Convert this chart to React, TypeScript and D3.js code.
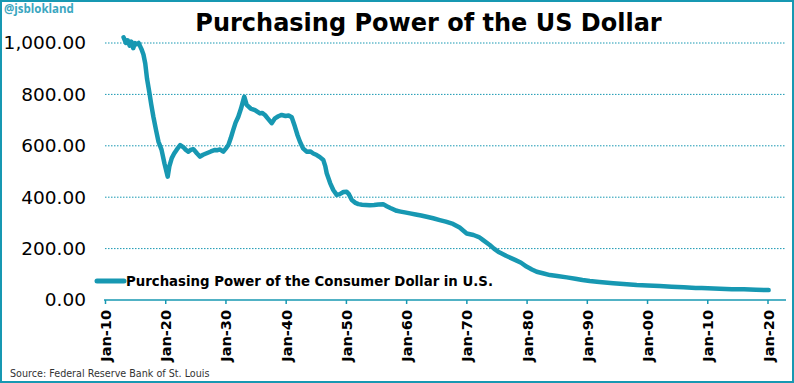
import React from "react";
import * as d3 from "d3";

const years: number[] = [
  1913.0, 1913.4, 1913.7, 1914.0, 1914.3, 1914.6, 1914.9, 1915.2, 1915.5, 1915.8,
  1916.0, 1916.3, 1916.6, 1916.9, 1917.3, 1917.6, 1917.95, 1918.4, 1918.8, 1919.3,
  1919.8, 1920.33, 1920.6, 1921.0, 1921.4, 1921.8, 1922.4, 1922.9, 1923.3, 1923.75,
  1924.2, 1924.6, 1925.2, 1925.7, 1926.2, 1926.8, 1927.5, 1928.2, 1928.6, 1929.0,
  1929.56, 1930.0, 1930.4, 1930.8, 1931.2, 1931.6, 1932.05, 1932.5, 1933.04, 1933.44,
  1934.1, 1934.82, 1935.65, 1936.0, 1936.48, 1937.0, 1937.59, 1938.14, 1938.7, 1939.25,
  1939.9, 1940.4, 1940.92, 1941.46, 1941.9, 1942.29, 1942.8, 1943.4, 1944.0, 1944.5,
  1945.07, 1945.6, 1946.16, 1946.5, 1946.73, 1947.3, 1947.82, 1948.39, 1948.9, 1949.5,
  1950.05, 1950.4, 1950.9, 1951.5, 1952.0, 1952.6, 1953.2, 1953.9, 1954.6, 1955.3,
  1956.1, 1956.7, 1957.3, 1958.35, 1959.0, 1959.7, 1960.56, 1961.5, 1962.4, 1963.33,
  1964.4, 1965.5, 1966.5, 1967.7, 1968.8, 1969.97, 1971.1, 1972.0, 1972.7, 1973.8,
  1974.5, 1975.2, 1976.5, 1978.0, 1979.0, 1979.9, 1980.8, 1981.6, 1982.6, 1983.8,
  1985.0, 1986.6, 1988.0, 1989.2, 1990.4, 1992.0, 1994.3, 1996.0, 1998.2, 2000.0,
  2002.0, 2004.0, 2006.0, 2008.0, 2009.0, 2010.0, 2012.0, 2014.0, 2016.0, 2018.0,
  2020.1,
];

const purchasingPower: number[] = [
  1022, 1000, 1010, 990, 1005, 980, 1000, 995, 1000, 985,
  975, 955, 920, 860, 805, 760, 713, 660, 616, 585,
  530, 480, 520, 552, 570, 584, 603, 595, 585, 577,
  585, 587, 570, 558, 565, 571, 578, 584, 583, 586,
  577, 590, 603, 630, 661, 690, 713, 745, 791, 759,
  745, 739, 726, 728, 720, 705, 688, 707, 715, 720,
  716, 718, 711, 674, 640, 616, 590, 577, 578, 570,
  564, 556, 545, 520, 493, 455, 428, 409, 412, 420,
  421, 412, 389, 378, 373, 371, 370, 369, 370, 372,
  373, 365, 358, 347, 344, 341, 337, 333, 329, 324,
  318, 311, 305, 296, 282, 259, 253, 245, 233, 214,
  200, 188, 172, 156, 145, 130, 119, 110, 104, 97,
  93, 88, 83, 78, 74, 70, 65, 62, 58, 56,
  54.5, 52, 49.5, 46.5, 46.5, 45.5, 43.5, 42.2, 41.7, 39.8,
  38.6,
];

const xTickYears: number[] = [1910, 1920, 1930, 1940, 1950, 1960, 1970, 1980, 1990, 2000, 2010, 2020];
const yTicks: number[] = [0, 200, 400, 600, 800, 1000];

const title = "Purchasing Power of the US Dollar";
const seriesName = "Purchasing Power of the Consumer Dollar in U.S.";
const source = "Source: Federal Reserve Bank of St. Louis";
const handle = "@jsblokland";

const W = 794;
const H = 383;
const TEAL = "#1798b2";
const FONT = "'DejaVu Sans', Verdana, sans-serif";

export default function App() {
  const x = d3.scaleLinear().domain([1910, 2020]).range([105.5, 768]);
  const y = d3.scaleLinear().domain([0, 1000]).range([300, 43]);
  const plotRight = 786;

  const pts: [number, number][] = years.map((yr, i) => [yr, purchasingPower[i]]);
  const line = d3
    .line<[number, number]>()
    .x((d) => x(d[0]))
    .y((d) => y(d[1]))
    .curve(d3.curveLinear);

  const fmt = d3.format(",.2f");
  const tickLabel = (yr: number) => "Jan-" + String(yr % 100).padStart(2, "0");

  return (
    <svg
      width={W}
      height={H}
      style={{ position: "absolute", left: 0, top: 0, background: "#fff" }}
    >
      <rect x={1} y={1} width={W - 2} height={H - 2} fill="#fff" stroke={TEAL} strokeWidth={2} />
      <text x={4} y={13} fontFamily="'Open Sans', sans-serif" fontWeight={700} fontSize={11.5} fill="#3aa6c0">
        {handle}
      </text>
      <text x={428.5} y={31} textAnchor="middle" fontFamily={FONT} fontWeight={700} fontSize={24} fill="#000">
        {title}
      </text>

      {yTicks.map((t) => (
        <g key={t}>
          {t > 0 && (
            <line
              x1={105}
              x2={plotRight}
              y1={y(t)}
              y2={y(t)}
              stroke={TEAL}
              strokeWidth={1}
              strokeDasharray="1.5 1.5"
            />
          )}
          <text x={86} y={y(t)} dy="0.35em" textAnchor="end" fontFamily={FONT} fontSize={18.5} fill="#000">
            {fmt(t)}
          </text>
        </g>
      ))}

      <line x1={104} x2={plotRight} y1={y(0)} y2={y(0)} stroke={TEAL} strokeWidth={1.5} />
      {xTickYears.map((yr) => (
        <g key={yr}>
          <line x1={x(yr)} x2={x(yr)} y1={y(0)} y2={y(0) + 4} stroke={TEAL} strokeWidth={1.5} />
          <text
            transform={`translate(${x(yr) + 5.5},${y(0) + 10}) rotate(-90)`}
            textAnchor="end"
            fontFamily={FONT}
            fontWeight={700}
            fontSize={14.5}
            fill="#000"
          >
            {tickLabel(yr)}
          </text>
        </g>
      ))}

      <path
        d={line(pts) || ""}
        fill="none"
        stroke={TEAL}
        strokeWidth={4.5}
        strokeLinejoin="round"
        strokeLinecap="round"
      />

      <line x1={97} x2={124} y1={281} y2={281} stroke={TEAL} strokeWidth={5} strokeLinecap="round" />
      <text x={126} y={286} fontFamily={FONT} fontWeight={700} fontSize={13.3} fill="#000">
        {seriesName}
      </text>

      <text x={10} y={377} fontFamily={FONT} fontSize={9.6} fill="#333">
        {source}
      </text>
    </svg>
  );
}
